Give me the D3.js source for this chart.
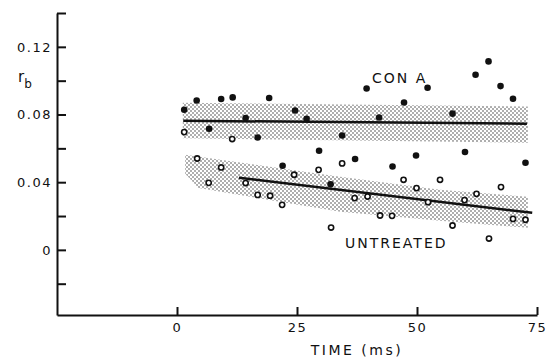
<!DOCTYPE html>
<html>
<head>
<meta charset="utf-8">
<script src="https://cdn.jsdelivr.net/npm/d3@7"></script>
<style>
  body { margin: 0; background: #fff; }
  text { font-family: "DejaVu Sans", sans-serif; fill: #111; }
</style>
</head>
<body>
<div id="chart"></div>
<script>
// values
const conATime = [1.5, 4.1, 6.7, 9.2, 11.6, 14.3, 16.8, 19.2, 22.0, 24.6, 27.0, 29.6, 32.0, 34.4,
  37.1, 39.5, 42.1, 44.9, 47.3, 49.8, 52.2, 57.4, 60.0, 62.2, 64.9, 67.4, 70.0, 72.6];
const conARb = [0.0828, 0.0883, 0.0716, 0.0892, 0.0901, 0.0779, 0.0664, 0.0898, 0.0497, 0.0824, 0.0775, 0.0586, 0.0388, 0.0676,
  0.0537, 0.0954, 0.0782, 0.0493, 0.0871, 0.0558, 0.0958, 0.0805, 0.0578, 0.1035, 0.1114, 0.0968, 0.0893, 0.0515];

const untreatedTime = [1.5, 4.2, 6.6, 9.2, 11.5, 14.3, 16.8, 19.4, 21.9, 24.4, 29.5, 32.1, 34.4, 37.0,
  39.7, 42.3, 44.8, 47.2, 49.9, 52.3, 54.8, 57.4, 59.9, 62.4, 65.0, 67.5, 70.0, 72.6];
const untreatedRb = [0.0696, 0.0540, 0.0396, 0.0487, 0.0655, 0.0395, 0.0325, 0.0320, 0.0266, 0.0444, 0.0473, 0.0132, 0.0511, 0.0306,
  0.0315, 0.0203, 0.0201, 0.0414, 0.0365, 0.0282, 0.0414, 0.0144, 0.0294, 0.0331, 0.0067, 0.0371, 0.0183, 0.0178];

// fitted lines [time, rb]
const conAFit = [[1.3, 0.0763], [72.9, 0.0746]];
const untreatedFit = [[12.9, 0.0426], [74.0, 0.0219]];

// shaded bands, outline points [time, rb]
const conABand = [[1.2, 0.0870], [73.1, 0.0848], [73.1, 0.0633], [1.2, 0.0660]];
const untreatedBand = [[1.7, 0.0562], [34, 0.0432], [54.8, 0.0355], [73.1, 0.0314],
  [73.1, 0.0130], [54.8, 0.0172], [34, 0.0225], [4.5, 0.0365], [1.7, 0.0450]];

const xTicks = [0, 25, 50, 75];
const yTicks = [-0.02, 0, 0.02, 0.04, 0.06, 0.08, 0.10, 0.12, 0.14];
const yLabels = [0, 0.04, 0.08, 0.12];

let width = 548, height = 358;

const svg = d3.select("#chart")
  .append("svg")
    .attr("width", width)
    .attr("height", height);

let x = d3.scaleLinear().domain([-25, 75]).range([57, 537]);
let y = d3.scaleLinear().domain([-0.0385, 0.14]).range([315, 13]);

// stipple pattern for the bands
const pat = svg.append("defs").append("pattern")
  .attr("id", "stipple")
  .attr("patternUnits", "userSpaceOnUse")
  .attr("width", 4).attr("height", 4);
pat.append("circle").attr("cx", 1).attr("cy", 1).attr("r", 0.75).attr("fill", "#333");
pat.append("circle").attr("cx", 3).attr("cy", 3).attr("r", 0.75).attr("fill", "#333");

const outline = d3.line().x(d => x(d[0])).y(d => y(d[1]));

svg.append("path")
  .attr("d", outline(conABand) + "Z")
  .attr("fill", "url(#stipple)");
svg.append("path")
  .attr("d", outline(untreatedBand) + "Z")
  .attr("fill", "url(#stipple)");

// axes
const yAxis = svg.append("g")
  .attr("transform", "translate(" + x(-25) + ",0)")
  .call(d3.axisLeft(y)
    .tickValues(yTicks)
    .tickSize(-9)
    .tickSizeOuter(0)
    .tickPadding(5)
    .tickFormat(d => {
      if (!yLabels.some(v => Math.abs(v - d) < 1e-9)) return "";
      return Math.abs(d) < 1e-9 ? "0" : d3.format(".2f")(d);
    }));

const xAxis = svg.append("g")
  .attr("transform", "translate(0," + y.range()[0] + ")")
  .call(d3.axisBottom(x)
    .tickValues(xTicks)
    .tickSize(-8)
    .tickSizeOuter(0)
    .tickPadding(8)
    .tickFormat(d3.format("d")));

[yAxis, xAxis].forEach(g => {
  g.select(".domain").attr("stroke", "#111").attr("stroke-width", 2);
  g.selectAll(".tick line").attr("stroke", "#111").attr("stroke-width", 2);
  g.selectAll(".tick text")
    .style("font-family", "DejaVu Sans, sans-serif")
    .style("font-size", "13px")
    .style("letter-spacing", "1.5px")
    .attr("fill", "#111");
});

// fitted lines
svg.append("path")
  .attr("d", outline(conAFit))
  .attr("stroke", "#111").attr("stroke-width", 2.5).attr("fill", "none");
svg.append("path")
  .attr("d", outline(untreatedFit))
  .attr("stroke", "#111").attr("stroke-width", 2.5).attr("fill", "none");

// points
svg.append("g")
  .selectAll("circle")
  .data(conATime)
  .enter()
  .append("circle")
    .attr("cx", d => x(d))
    .attr("cy", (d, i) => y(conARb[i]))
    .attr("r", 3.3)
    .attr("fill", "#111");

svg.append("g")
  .selectAll("circle")
  .data(untreatedTime)
  .enter()
  .append("circle")
    .attr("cx", d => x(d))
    .attr("cy", (d, i) => y(untreatedRb[i]))
    .attr("r", 2.6)
    .attr("fill", "#fff")
    .attr("stroke", "#111")
    .attr("stroke-width", 1.6);

// labels
svg.append("text")
  .attr("x", 372).attr("y", 83)
  .style("font-size", "14px").style("letter-spacing", "2px")
  .text("CON A");

svg.append("text")
  .attr("x", 345).attr("y", 248)
  .style("font-size", "14px").style("letter-spacing", "2px")
  .text("UNTREATED");

svg.append("text")
  .attr("x", 357).attr("y", 355)
  .attr("text-anchor", "middle")
  .style("font-size", "14px").style("letter-spacing", "2.5px")
  .text("TIME (ms)");

const rb = svg.append("text")
  .attr("x", 18).attr("y", 82)
  .style("font-size", "15px");
rb.append("tspan").text("r");
rb.append("tspan").attr("dy", 6).style("font-size", "12px").text("b");
</script>
</body>
</html>
